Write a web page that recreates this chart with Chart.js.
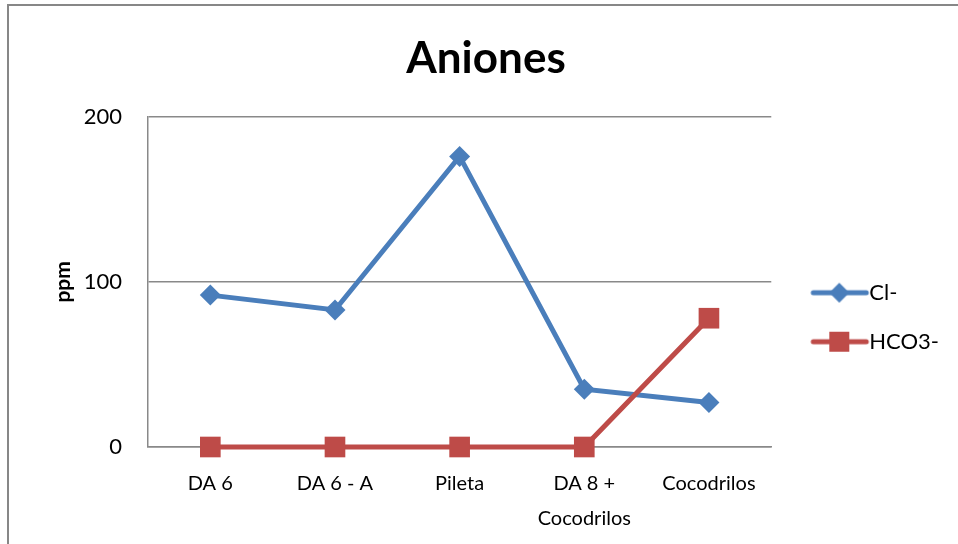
<!DOCTYPE html>
<html lang="es">
<head>
<meta charset="UTF-8">
<title>Aniones</title>
<script src="https://cdn.jsdelivr.net/npm/chart.js"></script>
<style>
    html, body { margin: 0; padding: 0; background: #fff; overflow: hidden; }
    .frame { position: absolute; left: 7px; top: 4px; width: 2000px; height: 2000px;
             border-left: 2px solid #878787; border-top: 2px solid #878787; }
    .wrap { position: absolute; left: 0; top: 0; width: 958px; height: 544px; }
</style>
</head>
<body>
<div class="frame"></div>
<div class="wrap"><canvas id="chart" width="958" height="544"></canvas></div>
<script>
// --- data ---
const categories = ['DA 6', 'DA 6 - A', 'Pileta', ['DA 8 +', 'Cocodrilos'], 'Cocodrilos'];
const chloride = [92, 83, 176, 35, 27];
const bicarbonate = [0, 0, 0, 0, 78];
const yTicks = [0, 100, 200];

const BLUE = '#4a7ebb';
const RED = '#be4b48';
const FONT = 'Lato, "Liberation Sans", sans-serif';

// legend swatch: a short line with the marker on it
function swatch(color, shape) {
    const c = document.createElement('canvas');
    c.width = 100; c.height = 24;
    const g = c.getContext('2d');
    g.strokeStyle = color; g.fillStyle = color;
    g.lineWidth = 5; g.lineCap = 'round';
    g.beginPath(); g.moveTo(35, 12); g.lineTo(88, 12); g.stroke();
    const cx = 61;
    g.beginPath();
    if (shape === 'diamond') {
        g.moveTo(cx - 10, 12); g.lineTo(cx, 2); g.lineTo(cx + 10, 12); g.lineTo(cx, 22);
    } else {
        g.rect(cx - 10, 2, 20, 20);
    }
    g.closePath(); g.fill();
    return c;
}
const swatches = [swatch(BLUE, 'diamond'), swatch(RED, 'square')];

new Chart(document.getElementById('chart'), {
    type: 'line',
    data: {
        labels: categories,
        datasets: [{
            label: 'Cl-',
            data: chloride,
            order: 1,
            borderColor: BLUE,
            backgroundColor: BLUE,
            borderWidth: 5,
            pointStyle: 'rectRot',
            pointRadius: 10.5,
            pointHoverRadius: 10.5,
            pointBorderWidth: 0,
            clip: false,
            tension: 0
        }, {
            label: 'HCO3-',
            data: bicarbonate,
            order: 0,
            borderColor: RED,
            backgroundColor: RED,
            borderWidth: 5,
            pointStyle: 'rect',
            pointRadius: 14.6,
            pointHoverRadius: 14.6,
            pointBorderWidth: 0,
            clip: false,
            tension: 0
        }]
    },
    options: {
        responsive: false,
        animation: false,
        layout: { padding: { left: 23, right: 9, top: 0, bottom: 8 } },
        plugins: {
            tooltip: { enabled: false },
            title: {
                display: true,
                text: 'Aniones',
                color: '#000',
                font: { family: FONT, size: 44, weight: 'bold' },
                padding: { top: 32, bottom: 32 }
            },
            legend: {
                position: 'right',
                title: { display: true, text: ' ', font: { size: 12 }, padding: { top: 84, bottom: 0 } },
                labels: {
                    color: '#000',
                    font: { family: FONT, size: 22 },
                    usePointStyle: true,
                    pointStyleWidth: 60,
                    padding: 27,
                    generateLabels: chart => chart.data.datasets.map((ds, i) => ({
                        text: ds.label,
                        pointStyle: swatches[i],
                        fillStyle: ds.borderColor,
                        strokeStyle: ds.borderColor,
                        lineWidth: 0,
                        fontColor: '#000',
                        datasetIndex: i
                    }))
                }
            }
        },
        scales: {
            x: {
                offset: true,
                afterFit: axis => { axis.height = 89; },
                grid: { display: false, drawTicks: false },
                border: { display: true, color: '#898989', width: 1.5 },
                ticks: {
                    color: '#000',
                    padding: 19,
                    maxRotation: 0,
                    autoSkip: false,
                    font: { family: FONT, size: 20, lineHeight: 1.75 }
                }
            },
            y: {
                min: yTicks[0],
                max: yTicks[yTicks.length - 1],
                afterBuildTicks: axis => { axis.ticks = yTicks.map(v => ({ value: v })); },
                afterFit: axis => { axis.width = 125; },
                grid: { color: '#898989', lineWidth: 1.5, drawTicks: false },
                border: { display: true, color: '#898989', width: 1.5 },
                ticks: {
                    color: '#000',
                    padding: 26,
                    font: { family: FONT, size: 22 }
                },
                title: {
                    display: true,
                    text: 'ppm',
                    color: '#000',
                    font: { family: FONT, size: 21, weight: 'bold', lineHeight: 1 },
                    padding: { top: 30, bottom: 10 }
                }
            }
        }
    }
});
</script>
</body>
</html>
